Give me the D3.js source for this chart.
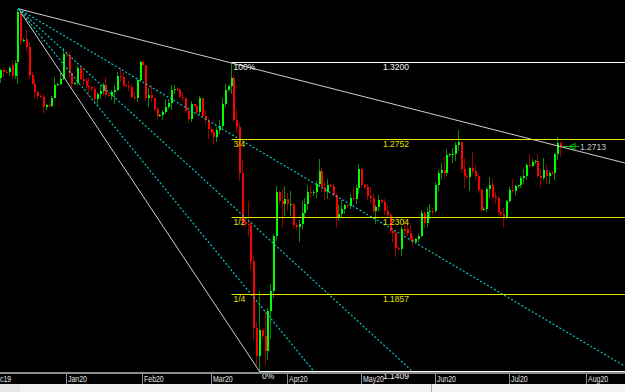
<!DOCTYPE html>
<html>
<head>
<meta charset="utf-8">
<script src="https://cdn.jsdelivr.net/npm/d3@7"></script>
<style>
  html, body { margin: 0; padding: 0; background: #000; }
  svg { display: block; }
  text { font-family: "Liberation Sans", Arial, sans-serif; }
</style>
</head>
<body>
<div id="chart"></div>
<script>
// Daily GBP/USD bars (Sunday to Friday sessions)
var dates = [
  "2019-12-04","2019-12-05","2019-12-06","2019-12-08","2019-12-09","2019-12-10","2019-12-11","2019-12-12","2019-12-13","2019-12-15","2019-12-16","2019-12-17","2019-12-18","2019-12-19","2019-12-20","2019-12-22","2019-12-23","2019-12-24","2019-12-25","2019-12-26","2019-12-27","2019-12-29","2019-12-30","2019-12-31",
  "2020-01-01","2020-01-02","2020-01-03","2020-01-05","2020-01-06","2020-01-07","2020-01-08","2020-01-09","2020-01-10","2020-01-12","2020-01-13","2020-01-14","2020-01-15","2020-01-16","2020-01-17","2020-01-19","2020-01-20","2020-01-21","2020-01-22","2020-01-23","2020-01-24","2020-01-26","2020-01-27","2020-01-28","2020-01-29","2020-01-30","2020-01-31",
  "2020-02-02","2020-02-03","2020-02-04","2020-02-05","2020-02-06","2020-02-07","2020-02-09","2020-02-10","2020-02-11","2020-02-12","2020-02-13","2020-02-14","2020-02-16","2020-02-17","2020-02-18","2020-02-19","2020-02-20","2020-02-21","2020-02-23","2020-02-24","2020-02-25","2020-02-26","2020-02-27","2020-02-28",
  "2020-03-01","2020-03-02","2020-03-03","2020-03-04","2020-03-05","2020-03-06","2020-03-08","2020-03-09","2020-03-10","2020-03-11","2020-03-12","2020-03-13","2020-03-15","2020-03-16","2020-03-17","2020-03-18","2020-03-19","2020-03-20","2020-03-22","2020-03-23","2020-03-24","2020-03-25","2020-03-26","2020-03-27","2020-03-29","2020-03-30","2020-03-31",
  "2020-04-01","2020-04-02","2020-04-03","2020-04-05","2020-04-06","2020-04-07","2020-04-08","2020-04-09","2020-04-10","2020-04-12","2020-04-13","2020-04-14","2020-04-15","2020-04-16","2020-04-17","2020-04-19","2020-04-20","2020-04-21","2020-04-22","2020-04-23","2020-04-24","2020-04-26","2020-04-27","2020-04-28","2020-04-29","2020-04-30",
  "2020-05-01","2020-05-03","2020-05-04","2020-05-05","2020-05-06","2020-05-07","2020-05-08","2020-05-10","2020-05-11","2020-05-12","2020-05-13","2020-05-14","2020-05-15","2020-05-17","2020-05-18","2020-05-19","2020-05-20","2020-05-21","2020-05-22","2020-05-24","2020-05-25","2020-05-26","2020-05-27","2020-05-28","2020-05-29","2020-05-31",
  "2020-06-01","2020-06-02","2020-06-03","2020-06-04","2020-06-05","2020-06-07","2020-06-08","2020-06-09","2020-06-10","2020-06-11","2020-06-12","2020-06-14","2020-06-15","2020-06-16","2020-06-17","2020-06-18","2020-06-19","2020-06-21","2020-06-22","2020-06-23","2020-06-24","2020-06-25","2020-06-26","2020-06-28","2020-06-29","2020-06-30",
  "2020-07-01","2020-07-02","2020-07-03","2020-07-05","2020-07-06","2020-07-07","2020-07-08","2020-07-09","2020-07-10","2020-07-12","2020-07-13","2020-07-14","2020-07-15","2020-07-16","2020-07-17","2020-07-19","2020-07-20","2020-07-21","2020-07-22"
];

var opens = [
  1.2950,1.3115,1.3160,1.3150,1.3146,1.3190,1.3125,1.3205,1.3495,1.3325,1.3340,1.3295,1.3130,1.3080,1.3030,1.3010,1.3005,1.2945,1.2955,1.2950,1.3000,1.3075,1.3080,1.3110,
  1.3250,1.3245,1.3140,1.3080,1.3085,1.3170,1.3110,1.3095,1.3065,1.3060,1.3050,1.2990,1.3020,1.3040,1.3070,1.3015,1.3010,1.3030,1.3045,1.3125,1.3120,1.3070,1.3065,1.3060,1.3005,1.3000,1.3100,
  1.3205,1.3190,1.3000,1.3015,1.2995,1.2935,1.2895,1.2900,1.2915,1.2945,1.2970,1.3045,1.3050,1.3045,1.3005,1.2995,1.2920,1.2875,1.2960,1.2950,1.2915,1.2995,1.2890,1.2870,
  1.2820,1.2800,1.2770,1.2810,1.2835,1.2965,1.3045,1.3065,1.3115,1.2870,1.2830,1.2565,1.2280,1.2265,1.2260,1.2055,1.1665,1.1500,1.1650,1.1620,1.1530,1.1760,1.1880,1.2200,1.2450,1.2400,1.2385,
  1.2410,1.2380,1.2385,1.2260,1.2250,1.2265,1.2330,1.2385,1.2455,1.2450,1.2455,1.2500,1.2575,1.2480,1.2450,1.2495,1.2485,1.2435,1.2300,1.2325,1.2355,1.2375,1.2370,1.2420,1.2410,1.2475,
  1.2585,1.2495,1.2480,1.2430,1.2415,1.2340,1.2365,1.2405,1.2395,1.2340,1.2320,1.2225,1.2215,1.2130,1.2120,1.2235,1.2240,1.2215,1.2180,1.2165,1.2180,1.2200,1.2330,1.2270,1.2335,1.2345,
  1.2340,1.2490,1.2565,1.2580,1.2560,1.2665,1.2670,1.2675,1.2725,1.2740,1.2585,1.2545,1.2540,1.2590,1.2575,1.2545,1.2465,1.2350,1.2355,1.2470,1.2495,1.2425,1.2420,1.2335,1.2325,1.2310,
  1.2400,1.2465,1.2460,1.2485,1.2490,1.2535,1.2545,1.2610,1.2605,1.2625,1.2630,1.2545,1.2535,1.2580,1.2545,1.2565,1.2560,1.2670,1.2735
];

var highs = [
  1.3135,1.3165,1.3175,1.3158,1.3185,1.3215,1.3215,1.3514,1.3510,1.3345,1.3390,1.3320,1.3145,1.3110,1.3045,1.3018,1.3020,1.2965,1.2965,1.3010,1.3118,1.3085,1.3140,1.3285,
  1.3270,1.3265,1.3145,1.3090,1.3180,1.3185,1.3155,1.3115,1.3115,1.3068,1.3065,1.3030,1.3070,1.3085,1.3120,1.3025,1.3045,1.3075,1.3150,1.3175,1.3150,1.3080,1.3095,1.3080,1.3030,1.3110,1.3210,
  1.3212,1.3190,1.3055,1.3070,1.3000,1.2945,1.2905,1.2930,1.2990,1.2990,1.3070,1.3070,1.3058,1.3055,1.3030,1.3000,1.2935,1.2980,1.2965,1.2965,1.3010,1.3000,1.2930,1.2880,
  1.2830,1.2820,1.2830,1.2870,1.3000,1.3080,1.3075,1.3200,1.3130,1.2935,1.2850,1.2640,1.2300,1.2400,1.2285,1.2085,1.1700,1.1880,1.1660,1.1755,1.1780,1.1920,1.2210,1.2485,1.2460,1.2470,1.2485,
  1.2445,1.2460,1.2390,1.2270,1.2290,1.2400,1.2420,1.2490,1.2485,1.2465,1.2515,1.2645,1.2590,1.2515,1.2530,1.2500,1.2500,1.2445,1.2375,1.2405,1.2385,1.2380,1.2440,1.2480,1.2495,1.2615,
  1.2590,1.2500,1.2500,1.2480,1.2440,1.2375,1.2435,1.2410,1.2410,1.2370,1.2330,1.2245,1.2230,1.2140,1.2255,1.2295,1.2275,1.2260,1.2200,1.2185,1.2210,1.2350,1.2345,1.2365,1.2385,1.2360,
  1.2510,1.2580,1.2620,1.2655,1.2700,1.2680,1.2710,1.2745,1.2812,1.2745,1.2650,1.2555,1.2600,1.2685,1.2610,1.2560,1.2475,1.2365,1.2480,1.2540,1.2530,1.2455,1.2430,1.2345,1.2360,1.2405,
  1.2480,1.2530,1.2495,1.2495,1.2545,1.2585,1.2620,1.2670,1.2645,1.2635,1.2670,1.2580,1.2650,1.2610,1.2575,1.2575,1.2680,1.2770,1.2740
];

var lows = [
  1.2935,1.3085,1.3120,1.3142,1.3125,1.3110,1.3105,1.3080,1.3305,1.3320,1.3270,1.3105,1.3070,1.2995,1.2985,1.3000,1.2905,1.2925,1.2945,1.2945,1.2995,1.3065,1.3070,1.3100,
  1.3235,1.3115,1.3050,1.3070,1.3075,1.3100,1.3070,1.3045,1.3010,1.3040,1.2960,1.2955,1.2990,1.3020,1.2995,1.3005,1.2985,1.2960,1.3040,1.3090,1.3060,1.3060,1.3040,1.2995,1.2985,1.2975,1.3090,
  1.3185,1.2980,1.2945,1.2975,1.2920,1.2875,1.2885,1.2870,1.2905,1.2935,1.2925,1.3020,1.3040,1.2995,1.2980,1.2910,1.2850,1.2860,1.2945,1.2905,1.2900,1.2880,1.2840,1.2760,
  1.2790,1.2725,1.2740,1.2790,1.2820,1.2945,1.3035,1.3020,1.2860,1.2800,1.2515,1.2250,1.2250,1.2200,1.2000,1.1590,1.1452,1.1409,1.1600,1.1450,1.1480,1.1600,1.1840,1.2170,1.2380,1.2250,1.2315,
  1.2340,1.2315,1.2240,1.2230,1.2165,1.2240,1.2300,1.2350,1.2420,1.2430,1.2420,1.2480,1.2455,1.2405,1.2410,1.2475,1.2425,1.2245,1.2285,1.2300,1.2325,1.2360,1.2355,1.2400,1.2385,1.2440,
  1.2475,1.2470,1.2405,1.2390,1.2325,1.2265,1.2345,1.2385,1.2320,1.2300,1.2210,1.2165,1.2075,1.2110,1.2080,1.2200,1.2200,1.2170,1.2140,1.2160,1.2165,1.2190,1.2245,1.2250,1.2295,1.2320,
  1.2330,1.2460,1.2530,1.2535,1.2545,1.2655,1.2620,1.2630,1.2690,1.2560,1.2475,1.2530,1.2460,1.2555,1.2520,1.2445,1.2335,1.2340,1.2335,1.2415,1.2410,1.2385,1.2320,1.2315,1.2250,1.2295,
  1.2390,1.2445,1.2435,1.2475,1.2475,1.2500,1.2520,1.2595,1.2595,1.2615,1.2535,1.2480,1.2520,1.2500,1.2500,1.2555,1.2520,1.2640,1.2655
];

var closes = [
  1.3120,1.3160,1.3150,1.3146,1.3170,1.3125,1.3200,1.3495,1.3325,1.3335,1.3295,1.3130,1.3080,1.3030,1.3010,1.3005,1.2945,1.2955,1.2950,1.3000,1.3075,1.3080,1.3110,1.3250,
  1.3245,1.3140,1.3080,1.3085,1.3170,1.3110,1.3095,1.3065,1.3060,1.3050,1.2990,1.3020,1.3040,1.3070,1.3015,1.3010,1.3030,1.3045,1.3125,1.3120,1.3070,1.3065,1.3060,1.3005,1.3000,1.3100,1.3205,
  1.3190,1.3000,1.3015,1.2995,1.2935,1.2895,1.2900,1.2915,1.2945,1.2970,1.3045,1.3050,1.3045,1.3005,1.2995,1.2920,1.2875,1.2960,1.2950,1.2915,1.2995,1.2890,1.2870,1.2820,
  1.2800,1.2770,1.2810,1.2835,1.2965,1.3045,1.3065,1.3115,1.2870,1.2830,1.2565,1.2280,1.2265,1.2260,1.2055,1.1665,1.1500,1.1650,1.1620,1.1530,1.1760,1.1880,1.2200,1.2450,1.2400,1.2385,1.2410,
  1.2380,1.2385,1.2260,1.2250,1.2265,1.2330,1.2385,1.2455,1.2450,1.2455,1.2500,1.2575,1.2480,1.2450,1.2495,1.2485,1.2435,1.2300,1.2325,1.2355,1.2375,1.2370,1.2420,1.2410,1.2475,1.2585,
  1.2495,1.2480,1.2430,1.2415,1.2340,1.2365,1.2405,1.2395,1.2340,1.2320,1.2225,1.2215,1.2130,1.2120,1.2235,1.2225,1.2215,1.2180,1.2165,1.2180,1.2200,1.2330,1.2270,1.2335,1.2345,1.2340,
  1.2490,1.2565,1.2580,1.2560,1.2665,1.2670,1.2675,1.2725,1.2740,1.2585,1.2545,1.2540,1.2590,1.2575,1.2545,1.2465,1.2350,1.2355,1.2470,1.2495,1.2425,1.2420,1.2335,1.2325,1.2310,1.2400,
  1.2465,1.2460,1.2485,1.2490,1.2535,1.2545,1.2610,1.2605,1.2625,1.2630,1.2545,1.2535,1.2580,1.2545,1.2565,1.2560,1.2670,1.2735,1.2713
];

// Month ticks sit on the first session of each month
var tickDates = ["2019-12-01","2020-01-01","2020-02-02","2020-03-01","2020-04-01","2020-05-01","2020-06-01","2020-07-01","2020-08-02"];
var tickLabels = ["Dec19","Jan20","Feb20","Mar20","Apr20","May20","Jun20","Jul20","Aug20"];

// Retracement of the March swing
var levelNames = ["100%", "3/4", "1/2", "1/4", "0%"];
var levelValues = [1.3200, 1.2752, 1.2304, 1.1857, 1.1409];
var levelTexts = ["1.3200", "1.2752", "1.2304", "1.1857", "1.1409"];

// Fan from the December high
var fanOrigin = ["2019-12-12", 1.3514];
var fanHigh = ["2020-03-09", 1.3200];
var fanLow = ["2020-03-20", 1.1409];
var fanRatios = [0.392, 0.612, 0.816];

var lastPrice = 1.2713;

function init() {
    var w = 625;
    var h = 392;
    var plotBottom = 372;

    var svg = d3.select("#chart")
                .append("svg")
                .attr("width", w)
                .attr("height", h);

    svg.append("rect")
       .attr("width", w)
       .attr("height", h)
       .attr("fill", "#000");

    var parse = d3.timeParse("%Y-%m-%d");
    var t0 = parse(dates[0]);

    // position of a day among Sunday-Friday sessions
    function barIndex(s) {
        var d = parse(s);
        return d3.timeDay.count(t0, d) - d3.timeSaturday.count(t0, d);
    }

    var xScale = d3.scaleLinear()
                   .domain([barIndex(tickDates[1]), barIndex(tickDates[8])])
                   .range([66.7, 586.7]);

    var yScale = d3.scaleLinear()
                   .domain([levelValues[4], levelValues[0]])
                   .range([plotBottom, 63]);

    var bars = dates.map(function(d, i) {
        return { x: Math.round(xScale(barIndex(d))), o: opens[i], h: highs[i], l: lows[i], c: closes[i] };
    });

    // wicks (dim) then bodies (bright)
    svg.append("g").selectAll("rect")
       .data(bars)
       .enter()
       .append("rect")
       .attr("x", function(d) { return d.x - 1; })
       .attr("y", function(d) { return Math.round(yScale(d.h)); })
       .attr("width", 1)
       .attr("height", function(d) { return Math.max(1, Math.round(yScale(d.l)) - Math.round(yScale(d.h))); })
       .attr("fill", function(d) { return d.c >= d.o ? "#0a8a0a" : "#9a0000"; });

    svg.append("g").selectAll("rect")
       .data(bars)
       .enter()
       .append("rect")
       .attr("x", function(d) { return d.x - 1; })
       .attr("y", function(d) { return Math.round(yScale(Math.max(d.o, d.c))); })
       .attr("width", 2)
       .attr("height", function(d) {
           return Math.max(1, Math.round(yScale(Math.min(d.o, d.c))) - Math.round(yScale(Math.max(d.o, d.c))));
       })
       .attr("fill", function(d) { return d.c >= d.o ? "#00ff00" : "#ff0000"; });

    // fan lines
    var ox = xScale(barIndex(fanOrigin[0])), oy = yScale(fanOrigin[1]);
    var hx = xScale(barIndex(fanHigh[0])), hy = yScale(fanHigh[1]);
    var lx = xScale(barIndex(fanLow[0])), ly = yScale(fanLow[1]);

    var fan = svg.append("g").attr("fill", "none");

    var topSlope = (hy - oy) / (hx - ox);
    fan.append("line")
       .attr("x1", ox).attr("y1", oy)
       .attr("x2", w).attr("y2", oy + topSlope * (w - ox))
       .attr("stroke", "#d0d0d0");

    fan.append("line")
       .attr("x1", ox).attr("y1", oy)
       .attr("x2", lx).attr("y2", ly)
       .attr("stroke", "#d0d0d0");

    fanRatios.forEach(function(r) {
        var s = r * (ly - oy) / (lx - ox);
        var xEnd = ox + (plotBottom - oy) / s;
        var yEnd = plotBottom;
        if (xEnd > w) { xEnd = w; yEnd = oy + s * (w - ox); }
        fan.append("line")
           .attr("x1", ox).attr("y1", oy)
           .attr("x2", xEnd).attr("y2", yEnd)
           .attr("stroke", "#00c8c8")
           .attr("stroke-width", 1.2)
           .attr("stroke-dasharray", "2,2");
    });

    // retracement levels
    var levels = svg.append("g");
    levelValues.forEach(function(v, i) {
        var edge = (i === 0 || i === 4);
        var color = edge ? "#ffffff" : "#e6e600";
        var startX = (i === 4) ? lx : hx;
        var ly0 = Math.round(yScale(v)) - 0.5;
        levels.append("line")
              .attr("x1", startX).attr("y1", ly0)
              .attr("x2", w).attr("y2", ly0)
              .attr("stroke", color);
        levels.append("text")
              .attr("x", startX + 2)
              .attr("y", ly0 + 7.5)
              .attr("font-size", "8.5px")
              .attr("fill", edge ? "#f0f0f0" : "#e0e000")
              .text(levelNames[i]);
        levels.append("text")
              .attr("x", 383)
              .attr("y", ly0 + 7.5)
              .attr("font-size", "8.5px")
              .attr("fill", edge ? "#f0f0f0" : "#e0e000")
              .text(levelTexts[i]);
    });

    // last price marker
    var py = Math.round(yScale(lastPrice)) - 0.5;
    svg.append("line")
       .attr("x1", 563).attr("y1", py)
       .attr("x2", 579).attr("y2", py)
       .attr("stroke", "#00c000");
    svg.append("path")
       .attr("d", "M569," + py + "L575," + (py - 3) + "L575," + (py + 3) + "Z")
       .attr("fill", "none")
       .attr("stroke", "#00c000");
    svg.append("text")
       .attr("x", 580)
       .attr("y", py + 3.5)
       .attr("font-size", "8.5px")
       .attr("fill", "#c8c8c8")
       .text(lastPrice.toFixed(4));

    // time axis
    svg.append("rect")
       .attr("x", 0).attr("y", plotBottom)
       .attr("width", w).attr("height", 2)
       .attr("fill", "#8c8c8c");

    var axis = svg.append("g");
    tickDates.forEach(function(d, i) {
        var tx = Math.round(xScale(barIndex(d))) - 0.5;
        axis.append("line")
            .attr("x1", tx).attr("y1", plotBottom + 2)
            .attr("x2", tx).attr("y2", 384)
            .attr("stroke", "#909090");
        axis.append("text")
            .attr("transform", "translate(" + (tx + 1.5) + ",382) scale(0.82,1)")
            .attr("font-size", "8.5px")
            .attr("fill", "#e0e0e0")
            .text(tickLabels[i]);
    });

    // window status strip
    svg.append("rect")
       .attr("x", 0).attr("y", 384)
       .attr("width", w).attr("height", h - 384)
       .attr("fill", "#f2f2f2");
    svg.append("rect")
       .attr("x", 0).attr("y", 384)
       .attr("width", 20).attr("height", h - 384)
       .attr("fill", "#e6e6e6");
    svg.append("line")
       .attr("x1", 431.5).attr("y1", 384)
       .attr("x2", 431.5).attr("y2", h)
       .attr("stroke", "#a8a8a8");
}

window.onload = init;
</script>
</body>
</html>
